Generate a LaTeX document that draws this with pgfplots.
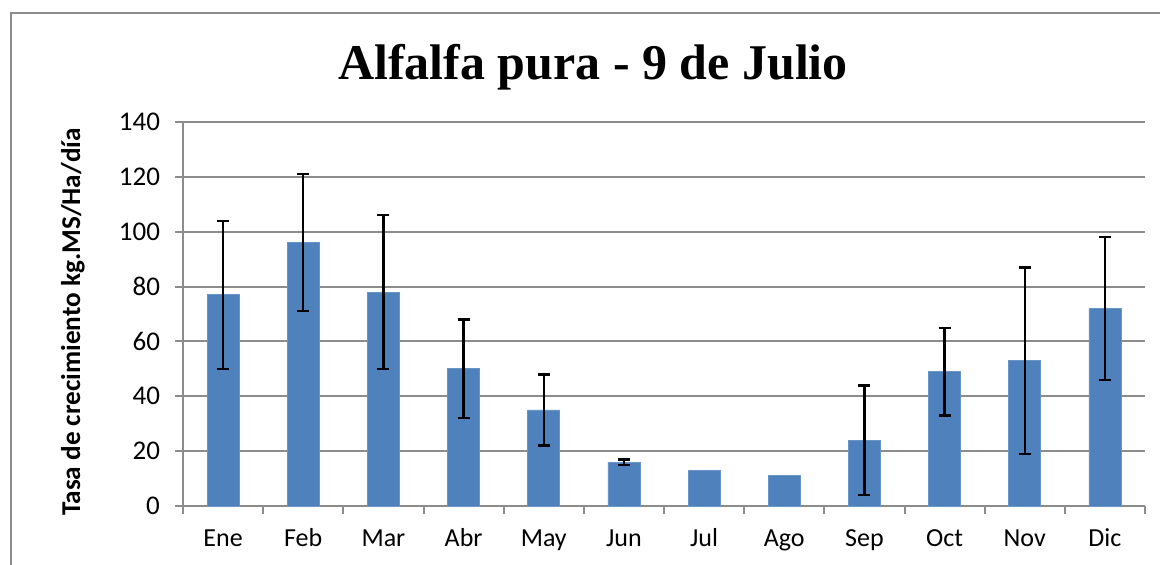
\documentclass[border=0pt]{standalone}
\usepackage{fontspec}
\setmainfont{Carlito}
\newfontfamily\titlefont{Liberation Serif}
\usepackage{pgfplots}
\pgfplotsset{compat=1.18}
\definecolor{barblue}{HTML}{4F81BD}
\definecolor{gridgray}{HTML}{8C8C8C}
\begin{document}
\begin{tikzpicture}
\path[use as bounding box] (-91.5pt,-29.5pt) rectangle (488.5pt,253pt);
\clip (-91.5pt,-29.5pt) rectangle (488.5pt,253pt);
\draw[gridgray, line width=0.8pt] (-86pt,-60pt) rectangle (520pt,246.5pt);
\begin{axis}[
  scale only axis,
  width=481pt, height=192pt,
  xmin=-0.5, xmax=11.5,
  ymin=0, ymax=140,
  ytick={0,20,...,140},
  xtick={0,...,11},
  xticklabels={Ene,Feb,Mar,Abr,May,Jun,Jul,Ago,Sep,Oct,Nov,Dic},
  minor xtick={-0.5,0.5,...,11.5},
  major x tick style={draw=none},
  minor x tick style={gridgray, line width=1pt},
  minor tick length=4pt,
  major tick length=4pt,
  tick align=outside,
  axis x line*=bottom, axis y line*=left,
  axis line style={gridgray, line width=1pt},
  y tick style={gridgray, line width=1pt},
  ymajorgrids,
  grid style={gridgray, line width=1pt},
  /pgf/number format/assume math mode=true,
  xticklabel style={font=\fontsize{13}{15}\selectfont, text height=1.6ex, text depth=0.4ex, anchor=north, yshift=-5pt},
  yticklabel style={font=\fontsize{13.5}{16}\selectfont, xshift=-4pt},
  clip=false,
]
\addplot[ybar, bar width=16pt, fill=barblue, draw=barblue!85!white]
  coordinates {(0,77) (1,96) (2,78) (3,50) (4,35) (5,16) (6,13) (7,11) (8,24) (9,49) (10,53) (11,72)};
\addplot[draw=none, mark=none, forget plot,
  error bars/.cd, y dir=both, y explicit,
  error bar style={draw=black, line width=1.2pt},
  error mark options={draw=black, line width=1.2pt, mark size=3pt, rotate=90}]
  table[x=x, y=y, y error plus=ep, y error minus=em] {
x y ep em
0 77 27 27
1 96 25 25
2 78 28 28
3 50 18 18
4 35 13 13
5 16 1 1
8 24 20 20
9 49 16 16
10 53 34 34
11 72 26 26
};
\end{axis}
\node[font=\titlefont\bfseries\fontsize{25}{30}\selectfont] at (205pt,219.5pt) {Alfalfa pura - 9 de Julio};
\node[rotate=90, font=\bfseries\fontsize{13.6}{16}\selectfont] at (-55pt,92pt) {Tasa de crecimiento kg.MS/Ha/día};
\end{tikzpicture}
\end{document}
